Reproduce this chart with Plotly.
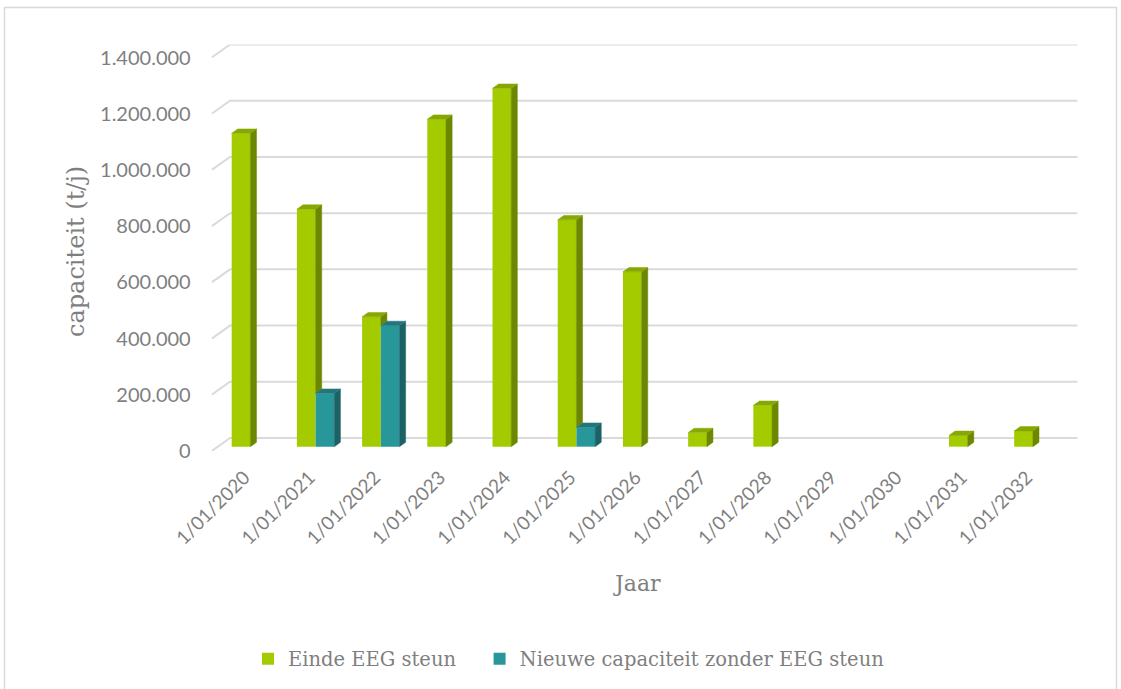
import plotly.graph_objects as go

# ---- data -------------------------------------------------------------
years = ["1/01/2020", "1/01/2021", "1/01/2022", "1/01/2023", "1/01/2024",
         "1/01/2025", "1/01/2026", "1/01/2027", "1/01/2028", "1/01/2029",
         "1/01/2030", "1/01/2031", "1/01/2032"]
einde_eeg = [1115000, 845000, 462000, 1165000, 1275000, 807000, 622000,
             50000, 147000, 0, 0, 40000, 56000]
nieuw_zonder_eeg = [0, 190000, 431000, 0, 0, 69000, 0, 0, 0, 0, 0, 0, 0]
y_ticks = [0, 200000, 400000, 600000, 800000, 1000000, 1200000, 1400000]

# ---- oblique 3-D box geometry (axis units) -----------------------------
DX = 0.2806          # full floor depth, in category units
DY = 46250           # full floor depth, in value units
BAR_W = 0.287        # width of one column
D0 = 1 / 3           # columns start one third into the box
DT = 1 / 3           # column thickness (fraction of box depth)
n = len(years)

GREEN = ["#a3cb00", "#6c8700", "#86a800"]   # front, side, top
TEAL = ["#28979a", "#1c6165", "#22767b"]
TXT = "#7f7f7f"
SERIF = "DejaVu Serif, serif"
SANS = "Lato, Open Sans, sans-serif"
PAD = "\u00a0" * 3   # extra room after the first legend entry

fig = go.Figure()

# back wall and left wall gridlines (drawn on the lower subplot)
gx, gy = [], []
for v in y_ticks:
    gx += [-0.5, -0.5 + DX, n - 0.5 + DX, None]
    gy += [v, v + DY, v + DY, None]
fig.add_trace(go.Scatter(x=gx, y=gy, mode="lines", hoverinfo="skip",
                         line=dict(color="#dadada", width=2),
                         showlegend=False, xaxis="x", yaxis="y"))

base = D0 * DY
ddx, ddy = DT * DX, DT * DY


def add_series(vals, offset, colors, name, occluder=None):
    xs = [i + D0 * DX + offset for i in range(n)]
    fig.add_trace(go.Bar(x=xs, y=vals, base=[base] * n, width=BAR_W,
                         name=name, marker=dict(color=colors[0], line=dict(width=0)),
                         xaxis="x2", yaxis="y2"))
    sx, sy, tx, ty = [], [], [], []
    for i, v in enumerate(vals):
        if v <= 0:
            continue
        x0 = xs[i] - BAR_W / 2
        x1 = xs[i] + BAR_W / 2
        top = base + v
        low = base
        if occluder is not None and occluder[i] > 0:
            low = base + min(occluder[i], v)
        # right side face
        sx += [x1, x1, x1 + ddx, x1 + ddx, x1, None]
        sy += [low, top, top + ddy, low + ddy, low, None]
        # top face
        tx += [x0, x1, x1 + ddx, x0 + ddx, x0, None]
        ty += [top, top, top + ddy, top + ddy, top, None]
    for px, py, col in ((sx, sy, colors[1]), (tx, ty, colors[2])):
        fig.add_trace(go.Scatter(x=px, y=py, mode="lines", fill="toself",
                                 fillcolor=col, line=dict(color=col, width=0.5),
                                 hoverinfo="skip", showlegend=False,
                                 xaxis="x2", yaxis="y2"))


add_series(einde_eeg, -BAR_W / 2, GREEN, "Einde EEG steun" + PAD,
           occluder=nieuw_zonder_eeg)
add_series(nieuw_zonder_eeg, BAR_W / 2, TEAL, "Nieuwe capaciteit zonder EEG steun")

W, H = 1121, 689
x_dom = [211.7 / W, 1077.7 / W]
y_dom = [1 - 451 / H, 1 - 44.5 / H]
x_rng = [-0.5, n - 0.5 + DX]
y_rng = [0, y_ticks[-1] + DY]

hidden = dict(showgrid=False, zeroline=False, showline=False,
              showticklabels=False, ticks="")

fig.update_layout(
    width=W, height=H,
    margin=dict(l=0, r=0, t=0, b=0),
    paper_bgcolor="white", plot_bgcolor="rgba(0,0,0,0)",
    separators=",.",
    barmode="overlay",
    xaxis=dict(domain=x_dom, range=x_rng, automargin=False, **hidden),
    yaxis=dict(domain=y_dom, range=y_rng, automargin=False, **hidden),
    xaxis2=dict(domain=x_dom, range=x_rng, overlaying="x", anchor="y2",
                automargin=False, showgrid=False, zeroline=False, showline=False,
                tickmode="array",
                tickvals=list(range(n)), ticktext=years,
                tickangle=-45, ticks="outside", ticklen=7,
                tickcolor="rgba(0,0,0,0)",
                tickfont=dict(family=SANS, size=19, color=TXT)),
    yaxis2=dict(domain=y_dom, range=y_rng, overlaying="y", anchor="x2",
                automargin=False, showgrid=False, zeroline=False, showline=False,
                tickmode="array", tickvals=y_ticks, tickformat=",",
                ticks="outside", ticklen=16, tickcolor="rgba(0,0,0,0)",
                tickfont=dict(family=SANS, size=20, color=TXT)),
    legend=dict(orientation="h", x=248 / W, xanchor="left",
                y=1 - 659 / H, yanchor="middle",
                font=dict(family=SERIF, size=19.5, color=TXT),
                itemclick=False, bgcolor="rgba(0,0,0,0)"),
    annotations=[
        dict(text="capaciteit (t/j)", textangle=-90, x=76 / W, y=1 - 252 / H,
             xref="paper", yref="paper", xanchor="center", yanchor="middle",
             showarrow=False, font=dict(family=SERIF, size=24, color=TXT)),
        dict(text="Jaar", x=637 / W, y=1 - 583 / H, xref="paper", yref="paper",
             xanchor="center", yanchor="middle",
             showarrow=False, font=dict(family=SERIF, size=22, color=TXT)),
    ],
    shapes=[dict(type="rect", xref="paper", yref="paper",
                 x0=4.5 / W, x1=1116.5 / W, y0=-0.01, y1=1 - 7.5 / H,
                 line=dict(color="#d9d9d9", width=1.5), layer="below")],
)

fig.write_html("out.html")
